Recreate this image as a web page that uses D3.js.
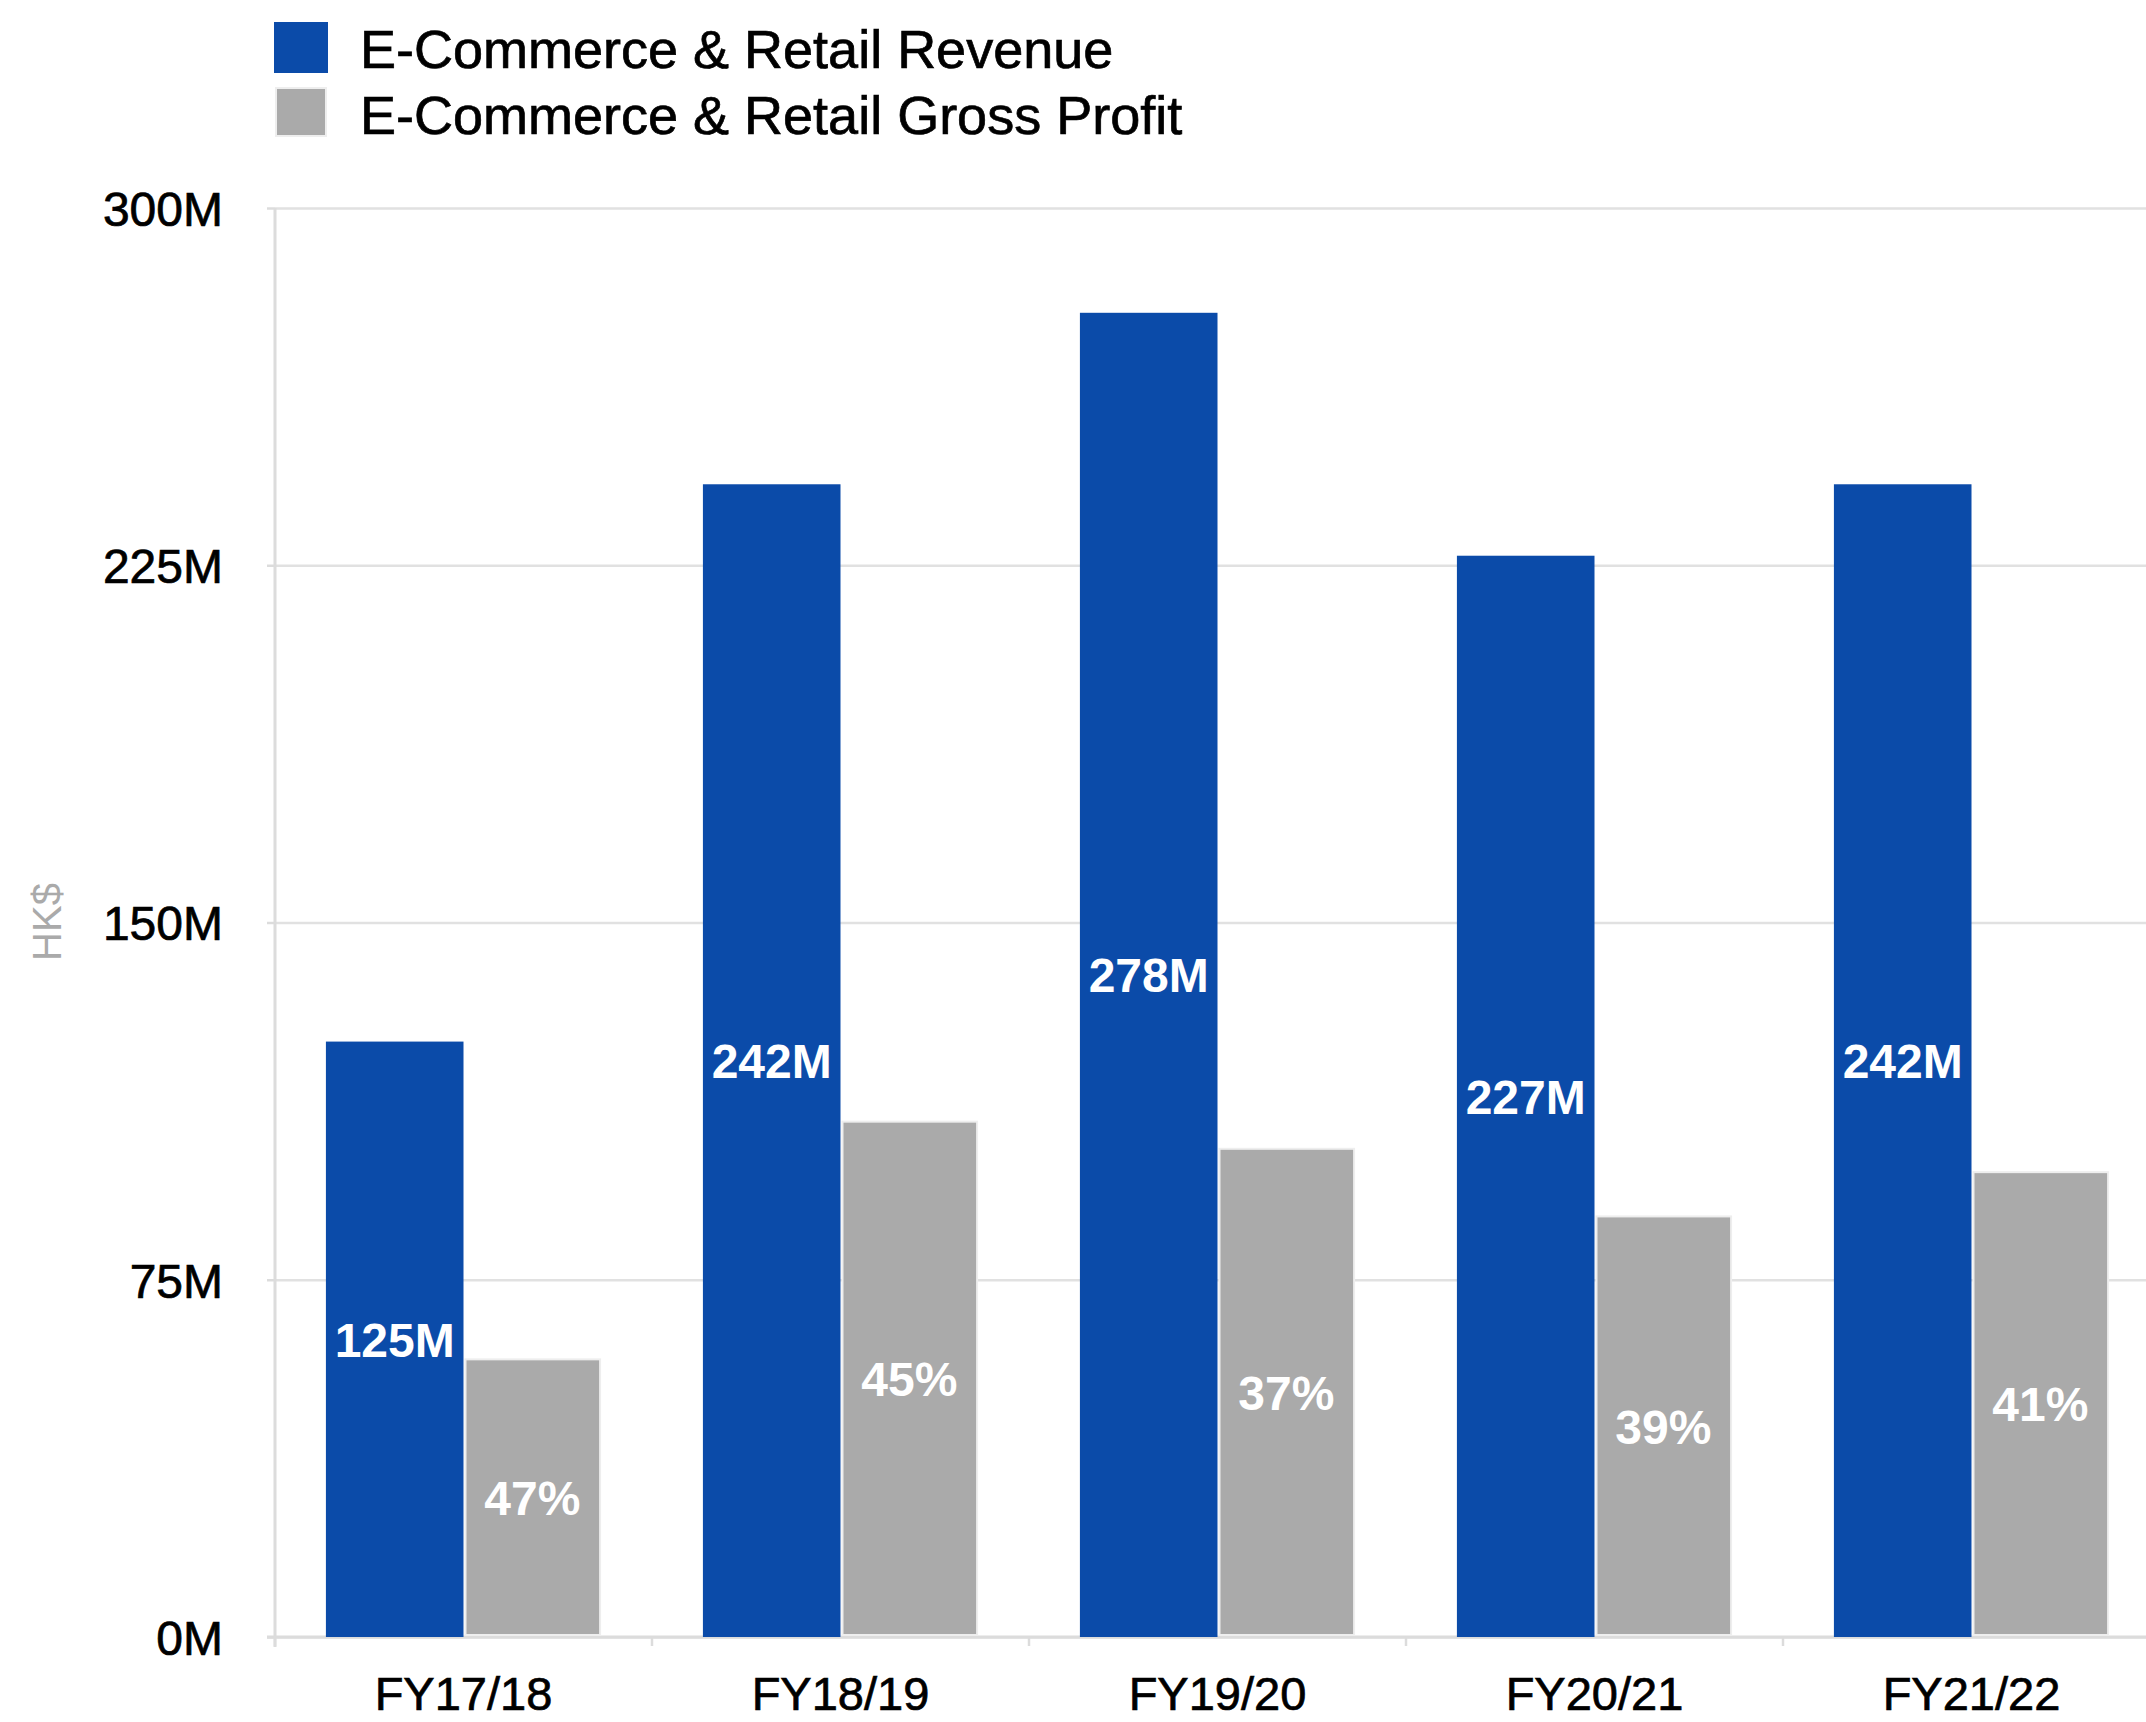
<!DOCTYPE html>
<html>
<head>
<meta charset="utf-8">
<script src="https://cdn.jsdelivr.net/npm/d3@7"></script>
<style>
  body { margin: 0; background: #fff; }
  svg { display: block; }
  text { font-family: "Liberation Sans", Arial, Helvetica, sans-serif; }
  .heavy { stroke: #000; stroke-width: 0.7px; }
</style>
</head>
<body>
<svg id="chart" width="2146" height="1722"></svg>
<script>
// Fiscal years on the x axis
const categories = ["FY17/18", "FY18/19", "FY19/20", "FY20/21", "FY21/22"];
// Segment revenue, HK$ millions
const revenue = [125, 242, 278, 227, 242];
// Segment gross profit, HK$ millions
const grossProfit = [58.5, 108.4, 102.7, 88.5, 97.8];
// Gross margin labels, percent
const grossMargin = [47, 45, 37, 39, 41];
// Series names for the legend
const seriesNames = ["E-Commerce & Retail Revenue", "E-Commerce & Retail Gross Profit"];
const seriesColors = ["#0b4ba9", "#aaaaaa"];
// Y axis ticks, HK$ millions
const yTicks = [0, 75, 150, 225, 300];

const svg = d3.select("#chart");
const W = 2146, H = 1722;
const plot = { left: 275, right: 2160, top: 208, bottom: 1637 };

const x0 = d3.scaleBand().domain(categories).range([plot.left, plot.right]).padding(0);
const x1 = d3.scaleBand().domain([0, 1]).range([0, x0.bandwidth()])
  .paddingInner(0).paddingOuter(0.37);
const y = d3.scaleLinear().domain([0, 300]).range([plot.bottom, plot.top]);

// Horizontal gridlines
svg.append("g")
  .attr("transform", `translate(${plot.left},0)`)
  .call(d3.axisLeft(y).tickValues(yTicks).tickSize(-(W - plot.left)).tickFormat(""))
  .call(g => g.select(".domain").remove())
  .call(g => g.selectAll(".tick line").attr("stroke", "#e1e1e1").attr("stroke-width", 2.5));

// Y axis with labels
svg.append("g")
  .attr("transform", `translate(${plot.left},0)`)
  .call(d3.axisLeft(y).tickValues(yTicks).tickSize(8).tickPadding(44).tickFormat(d => d + "M"))
  .call(g => g.select(".domain").attr("stroke", "#dcdcdc").attr("stroke-width", 3)
    .attr("d", `M0,${plot.top}V${plot.bottom + 10}`))
  .call(g => g.selectAll(".tick line").attr("stroke", "#dcdcdc").attr("stroke-width", 2.5))
  .call(g => g.selectAll(".tick text").attr("fill", "#000").attr("font-size", 48)
    .attr("class", "heavy").attr("dy", "0.36em"));

// X axis baseline, boundary ticks and category labels
const xAxis = svg.append("g").attr("transform", `translate(0,${plot.bottom})`);
xAxis.append("line")
  .attr("x1", plot.left - 8).attr("x2", W)
  .attr("stroke", "#dcdcdc").attr("stroke-width", 3);
xAxis.selectAll("line.bound")
  .data(categories)
  .join("line")
  .attr("class", "bound")
  .attr("x1", d => x0(d)).attr("x2", d => x0(d))
  .attr("y1", 0).attr("y2", 9)
  .attr("stroke", "#dcdcdc").attr("stroke-width", 2.5);
xAxis.call(d3.axisBottom(x0).tickSize(0).tickPadding(0))
  .call(g => g.select(".domain").remove())
  .call(g => g.selectAll(".tick text").attr("fill", "#000").attr("font-size", 47)
    .attr("class", "heavy").attr("dy", null).attr("y", 73));

// Bars
const groups = svg.append("g").selectAll("g")
  .data(categories)
  .join("g")
  .attr("transform", d => `translate(${x0(d)},0)`);

groups.append("rect")
  .attr("x", x1(0))
  .attr("width", x1.bandwidth())
  .attr("y", (d, i) => y(revenue[i]))
  .attr("height", (d, i) => y(0) - y(revenue[i]))
  .attr("fill", seriesColors[0]);

groups.append("rect")
  .attr("x", x1(1) + 2)
  .attr("width", x1.bandwidth() - 3)
  .attr("y", (d, i) => y(grossProfit[i]) + 1)
  .attr("height", (d, i) => y(0) - y(grossProfit[i]) - 3)
  .attr("fill", seriesColors[1])
  .attr("stroke", "#eeeeee")
  .attr("stroke-width", 2);

// Value labels inside the bars
groups.append("text")
  .attr("x", x1(0) + x1.bandwidth() / 2)
  .attr("y", (d, i) => (y(revenue[i]) + y(0)) / 2)
  .attr("dy", "0.36em")
  .attr("text-anchor", "middle")
  .attr("font-size", 48).attr("font-weight", "bold").attr("fill", "#fff")
  .text((d, i) => revenue[i] + "M");

groups.append("text")
  .attr("x", x1(1) + x1.bandwidth() / 2)
  .attr("y", (d, i) => (y(grossProfit[i]) + y(0)) / 2)
  .attr("dy", "0.36em")
  .attr("text-anchor", "middle")
  .attr("font-size", 48).attr("font-weight", "bold").attr("fill", "#fff")
  .text((d, i) => grossMargin[i] + "%");

// Y axis title
svg.append("text")
  .attr("transform", "translate(61,922) rotate(-90)")
  .attr("text-anchor", "middle")
  .attr("font-size", 40).attr("fill", "#aaaaaa")
  .text("HK$");

// Legend
const legend = svg.append("g");
const legendRows = legend.selectAll("g")
  .data(seriesNames)
  .join("g")
  .attr("transform", (d, i) => `translate(274,${22 + i * 66})`);
legendRows.append("rect")
  .attr("x", (d, i) => i === 0 ? 0 : 2)
  .attr("y", 0)
  .attr("width", (d, i) => i === 0 ? 54 : 50)
  .attr("height", (d, i) => i === 0 ? 51 : 48)
  .attr("fill", (d, i) => seriesColors[i])
  .attr("stroke", (d, i) => i === 0 ? "none" : "#eeeeee")
  .attr("stroke-width", 2);
legendRows.append("text")
  .attr("class", "heavy")
  .attr("x", 86)
  .attr("y", 46)
  .attr("font-size", 54)
  .attr("fill", "#000")
  .text(d => d);
</script>
</body>
</html>
